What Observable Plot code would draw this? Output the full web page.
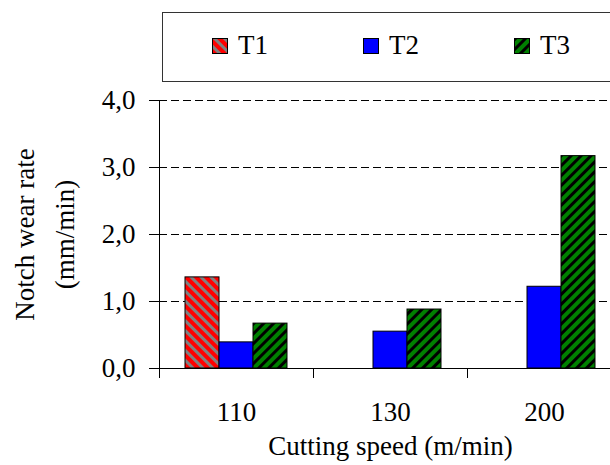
<!DOCTYPE html>
<html><head><meta charset="utf-8">
<script src="https://cdn.jsdelivr.net/npm/d3@7"></script>
<script src="https://cdn.jsdelivr.net/npm/@observablehq/plot@0.6"></script>
<style>
body{margin:0;background:#fff;}
#wrap{position:relative;width:610px;height:465px;overflow:hidden;background:#fff;font-family:"Liberation Serif","Times New Roman",Times,"DejaVu Serif",serif;}
#chart{position:absolute;left:0;top:0;}
.legend{position:absolute;left:162px;top:12px;width:470px;height:70px;border:1px solid #333;box-sizing:border-box;background:#fff;}
.sw{position:absolute;top:25px;width:16px;height:16px;}
.lt{position:absolute;top:19px;font-size:27px;line-height:27px;color:#000;white-space:nowrap;}
</style></head><body>
<div id="wrap"><div id="chart"></div><div class="legend" id="legend"></div></div>
<script>
const categories = ["110", "130", "200"];
const seriesNames = ["T1", "T2", "T3"];
const t1Values = [1.36, null, null];
const t2Values = [0.39, 0.55, 1.22];
const t3Values = [0.67, 0.88, 3.17];
const yTicks = [0, 1, 2, 3, 4];
const gridValues = [1, 2, 3, 4];
const xTitle = "Cutting speed (m/min)";
const yTitle = "Notch wear rate\n(mm/min)";
const fills = ["url(#hatchT1)", "#0000ff", "url(#hatchT3)"];
const fontStack = "'Liberation Serif', 'Times New Roman', Times, 'DejaVu Serif', serif";

const rows = [];
categories.forEach((c, i) => {
  [t1Values, t2Values, t3Values].forEach((arr, j) => {
    if (arr[i] != null) rows.push({cat: c, series: seriesNames[j], value: arr[i]});
  });
});

const chart = Plot.plot({
  width: 610, height: 465,
  marginLeft: 158, marginRight: -11, marginTop: 100, marginBottom: 97,
  style: {fontFamily: fontStack, fontSize: "27px", background: "transparent", color: "#000"},
  fx: {domain: categories, padding: 0, label: null},
  x: {domain: seriesNames, paddingInner: 0, paddingOuter: 0.75, axis: null},
  y: {domain: [0, 4], label: null},
  color: {domain: seriesNames, range: fills},
  marks: [
    Plot.ruleY(gridValues, {stroke: "#000", strokeDasharray: "8,4"}),
    Plot.barY(rows, {fx: "cat", x: "series", y: "value", fill: "series", stroke: "#000", strokeWidth: 1}),
    Plot.ruleY([0], {stroke: "#000"}),
    Plot.frame({facet: "super", anchor: "left", stroke: "#000"}),
    Plot.frame({anchor: "left", insetTop: 268, insetBottom: -9, stroke: "#000"}),
    Plot.axisY(yTicks, {tickFormat: d => d.toFixed(1).replace(".", ","), tickSize: 10, tickPadding: 14, fontSize: 27, fontFamily: fontStack, label: null}),
    Plot.axisFx({anchor: "bottom", tickSize: 0, tickPadding: 33, fontSize: 27, fontFamily: fontStack, label: null}),
    Plot.text([xTitle], {facet: "super", frameAnchor: "bottom", dy: 78, lineAnchor: "middle", fontSize: 27, fontFamily: fontStack}),
    Plot.text([yTitle], {facet: "super", frameAnchor: "left", rotate: -90, dx: -118, textAnchor: "middle", lineAnchor: "middle", lineHeight: 1.45, fontSize: 27, fontFamily: fontStack})
  ]
});

const defs = d3.select(chart).insert("defs", ":first-child");
function hatch(id, bg, fg, angle, size, stripe) {
  const p = defs.append("pattern").attr("id", id).attr("patternUnits", "userSpaceOnUse")
    .attr("width", size).attr("height", size).attr("patternTransform", `rotate(${angle})`);
  p.append("rect").attr("width", size).attr("height", size).attr("fill", bg);
  p.append("rect").attr("width", stripe).attr("height", size).attr("fill", fg);
}
hatch("hatchT1", "#ff0000", "#808080", -45, 7, 3);
hatch("hatchT3", "#008000", "#000000", 45, 7, 3);

document.getElementById("chart").appendChild(chart);

const legend = document.getElementById("legend");
seriesNames.forEach((s, i) => {
  const sw = document.createElementNS("http://www.w3.org/2000/svg", "svg");
  sw.setAttribute("class", "sw");
  sw.setAttribute("width", 16); sw.setAttribute("height", 16);
  sw.style.left = (49 + i * 151) + "px";
  sw.innerHTML = `<rect x="0.5" y="0.5" width="15" height="15" fill="${fills[i]}" stroke="#000" stroke-width="1"/>`;
  legend.appendChild(sw);
  const t = document.createElement("div");
  t.className = "lt";
  t.style.left = (75 + i * 151) + "px";
  t.textContent = s;
  legend.appendChild(t);
});
</script>
</body></html>
